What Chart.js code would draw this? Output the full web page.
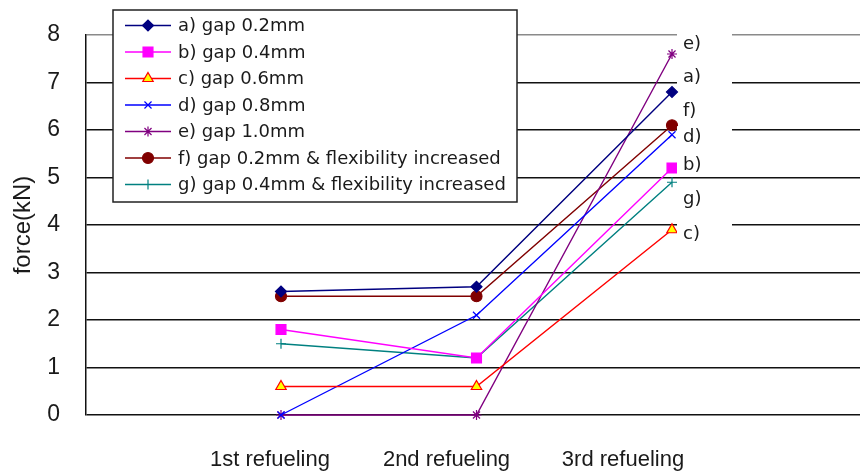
<!DOCTYPE html>
<html>
<head>
<meta charset="utf-8">
<script src="https://cdn.jsdelivr.net/npm/chart.js@4/dist/chart.umd.min.js"></script>
<style>
  html, body { margin: 0; padding: 0; background: #fff; }
  #wrap { width: 860px; height: 475px; position: relative; }
</style>
</head>
<body>
<div id="wrap"><canvas id="c" width="860" height="475"></canvas></div>
<script>
// ---- data ----
const categories = ['1st refueling', '2nd refueling', '3rd refueling'];
const seriesLabels = [
  'a) gap 0.2mm',
  'b) gap 0.4mm',
  'c) gap 0.6mm',
  'd) gap 0.8mm',
  'e) gap 1.0mm',
  'f) gap 0.2mm & flexibility increased',
  'g) gap 0.4mm & flexibility increased'
];
const gap02 = [2.6, 2.7, 6.8];
const gap04 = [1.8, 1.2, 5.2];
const gap06 = [0.6, 0.6, 3.9];
const gap08 = [0.0, 2.1, 5.9];
const gap10 = [0.0, 0.0, 7.6];
const gap02flex = [2.5, 2.5, 6.1];
const gap04flex = [1.5, 1.2, 4.9];
const yTicks = [0, 1, 2, 3, 4, 5, 6, 7, 8];
const endLabels = ['a)', 'b)', 'c)', 'd)', 'e)', 'f)', 'g)'];
const endLabelValues = [7.1, 5.25, 3.8, 5.85, 7.8, 6.4, 4.55];

const toPoints = vals => vals.map((v, i) => ({ x: i + 1, y: v }));

const styles = [
  { c: '#000080', ps: 'rectRot', r: 5.5, bg: '#000080', bc: '#000080' },
  { c: '#FF00FF', ps: 'rect', r: 7, bg: '#FF00FF', bc: '#FF00FF' },
  { c: '#FF0000', ps: 'triangle', r: 6, bg: '#FFFF00', bc: '#FF0000' },
  { c: '#0000FF', ps: 'crossRot', r: 5, bg: '#0000FF', bc: '#0000FF' },
  { c: '#800080', ps: 'star', r: 5, bg: '#800080', bc: '#800080' },
  { c: '#800000', ps: 'circle', r: 5.5, bg: '#800000', bc: '#800000' },
  { c: '#008080', ps: 'cross', r: 5, bg: '#008080', bc: '#008080' }
];
const seriesValues = [gap02, gap04, gap06, gap08, gap10, gap02flex, gap04flex];

const datasets = seriesValues.map((vals, i) => ({
  label: seriesLabels[i],
  data: toPoints(vals),
  borderColor: styles[i].c,
  backgroundColor: styles[i].bg,
  borderWidth: 1.4,
  pointStyle: styles[i].ps,
  pointRadius: styles[i].r,
  pointHoverRadius: styles[i].r,
  pointBackgroundColor: styles[i].bg,
  pointBorderColor: styles[i].bc,
  pointBorderWidth: 1.2,
  tension: 0,
  fill: false,
  clip: false
}));

const endLabelPlugin = {
  id: 'endLabels',
  afterDatasetsDraw(chart) {
    const ctx = chart.ctx;
    const xs = chart.scales.x, ys = chart.scales.y;
    ctx.save();
    ctx.font = '18px "DejaVu Sans", sans-serif';
    ctx.textBaseline = 'middle';
    ctx.textAlign = 'left';
    endLabels.forEach((t, i) => {
      const x = xs.getPixelForValue(categories.length) + 11;
      const y = ys.getPixelForValue(endLabelValues[i]);
      ctx.fillStyle = '#fff';
      ctx.fillRect(x - 6, y - 11, 55, 22);
      ctx.fillStyle = '#1a1a1a';
      ctx.fillText(t, x, y);
    });
    ctx.restore();
  }
};

const legendPlugin = {
  id: 'boxLegend',
  afterDraw(chart) {
    const ctx = chart.ctx;
    ctx.save();
    const x0 = 113, y0 = 10, w = 404, h = 192;
    ctx.fillStyle = '#fff';
    ctx.fillRect(x0, y0, w, h);
    ctx.strokeStyle = '#222';
    ctx.lineWidth = 1.5;
    ctx.strokeRect(x0, y0, w, h);
    chart.data.datasets.forEach((ds, i) => {
      const y = 25.5 + i * 26.5;
      ctx.strokeStyle = ds.borderColor;
      ctx.lineWidth = ds.borderWidth;
      ctx.beginPath();
      ctx.moveTo(125, y);
      ctx.lineTo(171, y);
      ctx.stroke();
      ctx.fillStyle = ds.pointBackgroundColor;
      ctx.strokeStyle = ds.pointBorderColor;
      ctx.lineWidth = ds.pointBorderWidth;
      if (Chart.helpers && Chart.helpers.drawPoint) {
        Chart.helpers.drawPoint(ctx, {
          pointStyle: ds.pointStyle, radius: ds.pointRadius,
          rotation: 0, borderWidth: ds.pointBorderWidth
        }, 148, y);
      }
      ctx.fillStyle = '#1a1a1a';
      ctx.font = '18px "DejaVu Sans", sans-serif';
      ctx.textBaseline = 'middle';
      ctx.textAlign = 'left';
      ctx.fillText(ds.label, 178, y + 1);
    });
    ctx.restore();
  }
};

const bgPlugin = {
  id: 'bg',
  beforeDraw(chart) {
    const ctx = chart.ctx;
    ctx.save();
    ctx.fillStyle = '#fff';
    ctx.fillRect(0, 0, chart.width, chart.height);
    ctx.restore();
  }
};

// target pixel positions taken from the reference layout
const pointPx = { first: 281, last: 672 };
const labelPx = { first: 270, last: 623 };

const chart = new Chart(document.getElementById('c'), {
  type: 'line',
  data: { datasets },
  plugins: [bgPlugin, endLabelPlugin, legendPlugin],
  options: {
    responsive: false,
    animation: false,
    events: [],
    layout: { autoPadding: false, padding: { top: 35, right: 0, bottom: 2, left: 0 } },
    plugins: { legend: { display: false }, tooltip: { enabled: false } },
    scales: {
      x: {
        type: 'linear',
        display: false,
        min: 0,
        max: 3.96
      },
      xl: {
        type: 'linear',
        position: 'bottom',
        min: -0.0425,
        max: 4.343,
        afterBuildTicks: axis => { axis.ticks = categories.map((c, i) => ({ value: i + 1 })); },
        afterFit: s => { s.height = 58; },
        grid: { display: false, drawTicks: false },
        border: { display: false },
        ticks: {
          autoSkip: false,
          maxRotation: 0,
          padding: 32,
          color: '#1a1a1a',
          font: { family: '"Liberation Sans", Arial, sans-serif', size: 22 },
          callback: v => categories[Math.round(v) - 1] || ''
        }
      },
      y: {
        min: 0,
        max: 8,
        afterBuildTicks: axis => { axis.ticks = yTicks.map(v => ({ value: v })); },
        afterFit: s => { s.width = 86; },
        grid: {
          drawTicks: true,
          tickLength: 6,
          tickColor: 'rgba(0,0,0,0)',
          lineWidth: 1.5,
          color: ctx => (ctx.tick && ctx.tick.value === 8) ? '#8a8a8a' : '#111'
        },
        border: { display: true, color: '#111', width: 1.5 },
        ticks: {
          padding: 20,
          color: '#1a1a1a',
          font: { family: '"Liberation Sans", Arial, sans-serif', size: 23 }
        },
        title: {
          display: true,
          text: 'force(kN)',
          color: '#1a1a1a',
          padding: { top: 9, bottom: 0 },
          font: { family: '"Liberation Sans", Arial, sans-serif', size: 24 }
        }
      }
    }
  }
});

// set the horizontal ranges so points and category labels land where the reference has them
(function fit() {
  const a = chart.chartArea;
  const n = categories.length;
  const sp = (pointPx.last - pointPx.first) / (n - 1);
  chart.options.scales.x.min = 1 - (pointPx.first - a.left) / sp;
  chart.options.scales.x.max = 1 + (a.right - pointPx.first) / sp;
  const sl = (labelPx.last - labelPx.first) / (n - 1);
  chart.options.scales.xl.min = 1 - (labelPx.first - a.left) / sl;
  chart.options.scales.xl.max = 1 + (a.right - labelPx.first) / sl;
  chart.update();
})();
</script>
</body>
</html>
